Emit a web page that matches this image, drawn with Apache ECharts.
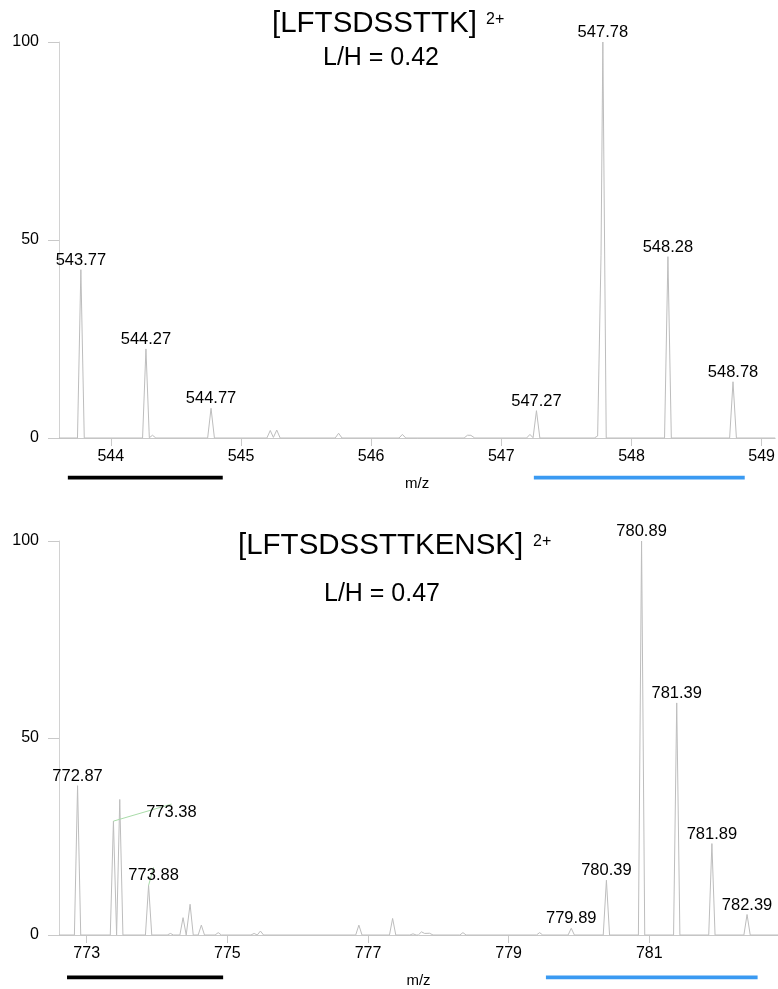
<!DOCTYPE html>
<html>
<head>
<meta charset="utf-8">
<script src="https://cdn.jsdelivr.net/npm/echarts@6/dist/echarts.min.js"></script>
<style>
  html, body { margin: 0; padding: 0; background: #fff; }
  #chart { width: 778px; height: 989px; }
</style>
</head>
<body>
<div id="chart"></div>
<script>
// ---- Panel 1: [LFTSDSSTTK] 2+ ----
const topTitle = '[LFTSDSSTTK]';
const topCharge = '2+';
const topRatio = 'L/H = 0.42';
const topMz = [543.77, 544.27, 544.32, 544.77, 545.225, 545.275, 545.75, 546.24, 546.74, 546.77, 547.22, 547.27, 547.74, 547.78, 548.28, 548.78];
const topIntensity = [42.5, 22.5, 0.7, 7.5, 1.9, 2.0, 1.2, 0.9, 0.7, 0.8, 0.9, 6.9, 0.5, 100, 45.8, 14.2];
const topLabeled = [543.77, 544.27, 544.77, 547.27, 547.78, 548.28, 548.78];
const topTicks = [544, 545, 546, 547, 548, 549];
const topRange = [543.602, 549.104];
const topLight = [543.67, 544.86];
const topHeavy = [547.25, 548.87];

// ---- Panel 2: [LFTSDSSTTKENSK] 2+ ----
const bottomTitle = '[LFTSDSSTTKENSK]';
const bottomCharge = '2+';
const bottomRatio = 'L/H = 0.47';
const bottomMz = [772.87, 773.38, 773.47, 773.88, 774.19, 774.37, 774.47, 774.63, 774.87, 775.38, 775.47, 776.87, 777.35, 777.64, 777.76, 777.83, 777.88, 778.35, 779.44, 779.89, 780.39, 780.89, 781.39, 781.89, 782.39];
const bottomIntensity = [37.9, 28.9, 34.4, 12.6, 0.4, 4.4, 7.8, 2.5, 0.6, 0.4, 1.0, 2.5, 4.2, 0.3, 0.8, 0.9, 0.5, 0.6, 0.6, 1.7, 13.9, 100, 58.9, 23.2, 5.2];
const bottomLabeled = [772.87, 773.38, 773.88, 779.89, 780.39, 780.89, 781.39, 781.89, 782.39];
const bottomTicks = [773, 775, 777, 779, 781];
const bottomRange = [772.606, 782.83];
const bottomLight = [772.72, 774.94];
const bottomHeavy = [779.53, 782.54];

const yTicks = [0, 50, 100];

const FONT = '"Liberation Sans", Arial, Helvetica, sans-serif';
const TEXT = '#000000';

// Profile trace: each centroid drawn as a narrow triangular peak; overlapping peaks add up.
function profile(mz, inten, halfWidth, range) {
  const xs = [range[0], range[1]];
  mz.forEach(c => { xs.push(c - halfWidth, c, c + halfWidth); });
  const uniq = Array.from(new Set(xs.map(v => +v.toFixed(5)))).sort((a, b) => a - b);
  return uniq.map(x => {
    let y = 0;
    mz.forEach((c, i) => {
      const d = Math.abs(x - c);
      if (d < halfWidth) y += inten[i] * (1 - d / halfWidth);
    });
    return [x, y];
  });
}

function labelPoints(labeled, mz, inten, leaders) {
  return labeled.map(v => {
    const i = mz.indexOf(v);
    const item = { value: [mz[i], inten[i]] };
    if (leaders[v]) {
      item.labelLine = { show: true, lineStyle: { color: '#a9dca9', width: 1 } };
    }
    return item;
  });
}

const leaderShift = {
  773.38: { dx: 58, dy: 1 },
  773.88: { dx: 5, dy: 0 }
};

function bars(gridIdx, light, heavy, offset) {
  return {
    type: 'custom',
    xAxisIndex: gridIdx, yAxisIndex: gridIdx,
    clip: false,
    silent: true,
    data: [[light[0], light[1], 0], [heavy[0], heavy[1], 1]],
    renderItem: function (params, api) {
      const a = api.coord([api.value(0), 0]);
      const b = api.coord([api.value(1), 0]);
      return {
        type: 'rect',
        shape: { x: a[0], y: a[1] + offset, width: b[0] - a[0], height: 3.6 },
        style: { fill: api.value(2) === 0 ? '#000000' : '#3a9af2' }
      };
    }
  };
}

function xAxisCfg(gridIdx, range, ticks) {
  return {
    type: 'value', gridIndex: gridIdx,
    min: range[0], max: range[1],
    name: 'm/z', nameLocation: 'middle', nameGap: 38,
    nameTextStyle: { fontFamily: FONT, fontSize: 15, color: TEXT },
    axisLine: { show: true, onZero: false, lineStyle: { color: '#c9c9c9', width: 1 } },
    axisTick: { show: true, length: 8, customValues: ticks, lineStyle: { color: '#c9c9c9' } },
    axisLabel: { customValues: ticks, margin: 11, fontFamily: FONT, fontSize: 16, color: TEXT },
    splitLine: { show: false }
  };
}

function yAxisCfg(gridIdx) {
  return {
    type: 'value', gridIndex: gridIdx,
    min: 0, max: 100, interval: 50,
    axisLine: { show: true, lineStyle: { color: '#d2d2d2', width: 1 } },
    axisTick: { show: true, length: 11, lineStyle: { color: '#c9c9c9' } },
    axisLabel: { margin: 20, fontFamily: FONT, fontSize: 16, color: TEXT,
      customValues: yTicks },
    splitLine: { show: false }
  };
}

function traceSeries(gridIdx, data) {
  return {
    type: 'line', xAxisIndex: gridIdx, yAxisIndex: gridIdx,
    data: data, showSymbol: false, symbol: 'none', silent: true,
    lineStyle: { color: '#bdbdbd', width: 1 }, z: 3
  };
}

function labelSeries(gridIdx, data) {
  return {
    type: 'scatter', xAxisIndex: gridIdx, yAxisIndex: gridIdx,
    data: data, symbolSize: 0, silent: true, z: 5,
    itemStyle: { color: '#000', opacity: 1 },
    label: {
      show: true, position: 'top', distance: 1,
      fontFamily: FONT, fontSize: 16.5, color: TEXT, opacity: 1,
      textBorderWidth: 0,
      formatter: p => p.value[0].toFixed(2)
    },
    emphasis: { disabled: true },
    labelLayout: function (params) {
      const s = leaderShift[params.text];
      return s ? { dx: s.dx, dy: s.dy } : {};
    }
  };
}

function titleText(x, y, text, size, align) {
  return {
    type: 'text', x: x, y: y, silent: true,
    style: { text: text, fontFamily: FONT, fontSize: size, fill: '#000',
      align: align || 'left', verticalAlign: 'middle' }
  };
}

const chart = echarts.init(document.getElementById('chart'), null, { renderer: 'canvas' });

chart.setOption({
  backgroundColor: '#ffffff',
  animation: false,
  grid: [
    { left: 59, right: 0, top: 42, height: 396 },
    { left: 59, right: 0, top: 541, height: 396 }
  ],
  xAxis: [xAxisCfg(0, topRange, topTicks), xAxisCfg(1, bottomRange, bottomTicks)],
  yAxis: [yAxisCfg(0), yAxisCfg(1)],
  series: [
    traceSeries(0, profile(topMz, topIntensity, 0.026, topRange)),
    traceSeries(1, profile(bottomMz, bottomIntensity, 0.045, bottomRange)),
    labelSeries(0, labelPoints(topLabeled, topMz, topIntensity, {})),
    labelSeries(1, labelPoints(bottomLabeled, bottomMz, bottomIntensity, leaderShift)),
    bars(0, topLight, topHeavy, 37.8),
    bars(1, bottomLight, bottomHeavy, 40.6)
  ],
  graphic: [
    titleText(272, 24, topTitle, 29.5),
    titleText(486, 20, topCharge, 16),
    titleText(381, 58, topRatio, 25, 'center'),
    titleText(238, 546, bottomTitle, 29.5),
    titleText(533, 542, bottomCharge, 16),
    titleText(382, 594, bottomRatio, 25, 'center')
  ]
});
</script>
</body>
</html>
